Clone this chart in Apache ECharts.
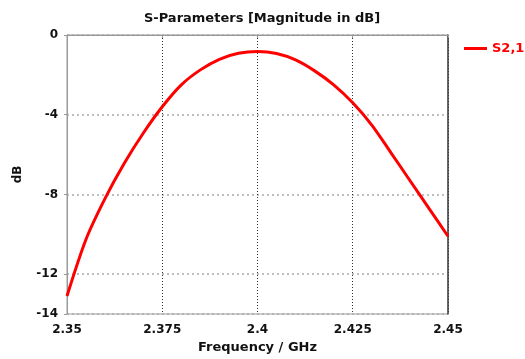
<!DOCTYPE html>
<html>
<head>
<meta charset="utf-8">
<script src="https://cdn.jsdelivr.net/npm/echarts@6/dist/echarts.min.js"></script>
<style>
  html, body { margin: 0; padding: 0; background: #fff; }
  #chart { width: 525px; height: 359px; }
</style>
</head>
<body>
<div id="chart"></div>
<script>
// frequency in GHz, S2,1 magnitude in dB
const freq = [2.35, 2.355, 2.36, 2.365, 2.37, 2.375, 2.38, 2.385, 2.39, 2.395, 2.4,
              2.405, 2.41, 2.415, 2.42, 2.425, 2.43, 2.435, 2.44, 2.445, 2.45];
const s21 = [-13.1, -10.25, -8.2, -6.45, -4.93, -3.6, -2.5, -1.75, -1.22, -0.92, -0.83,
             -0.93, -1.25, -1.8, -2.5, -3.4, -4.52, -5.9, -7.3, -8.7, -10.1];
const yTicks = [0, -4, -8, -12, -14];

const font = "DejaVu Sans";

const chart = echarts.init(document.getElementById("chart"));

chart.setOption({
  animation: false,
  textStyle: { fontFamily: font },
  title: {
    text: "S-Parameters [Magnitude in dB]",
    left: 257,
    textAlign: "center",
    top: 7,
    textStyle: { fontSize: 13, fontWeight: "bold", color: "#111", fontFamily: font }
  },
  legend: {
    data: ["S2,1"],
    left: 459,
    top: 37,
    icon: "rect",
    itemWidth: 23,
    itemHeight: 3,
    itemGap: 6,
    textStyle: { color: "#ff0000", fontWeight: "bold", fontSize: 13, fontFamily: font }
  },
  grid: {
    left: 67, right: 77, top: 35, bottom: 44,
    show: true,
    borderColor: "#999",
    borderWidth: 1
  },
  xAxis: {
    type: "value",
    min: 2.35,
    max: 2.45,
    interval: 0.025,
    name: "Frequency / GHz",
    nameLocation: "middle",
    nameGap: 27,
    nameTextStyle: { fontSize: 13, fontWeight: "bold", color: "#111" },
    axisLine: { lineStyle: { color: "#999" } },
    axisTick: { show: true, length: 3, lineStyle: { color: "#999" } },
    axisLabel: { fontSize: 12, fontWeight: "bold", color: "#111", margin: 10 },
    splitLine: { show: true, lineStyle: { color: "#333", type: [1, 2], width: 1 } }
  },
  yAxis: [{
    type: "value",
    min: -14,
    max: 0,
    name: "dB",
    nameLocation: "middle",
    nameGap: 43,
    nameTextStyle: { fontSize: 12, fontWeight: "bold", color: "#111" },
    axisLine: { show: true, lineStyle: { color: "#999" } },
    axisTick: { show: true, length: 3, customValues: yTicks, lineStyle: { color: "#999" } },
    axisLabel: { fontSize: 12, fontWeight: "bold", color: "#111", margin: 9, customValues: yTicks },
    splitLine: { show: true, lineStyle: { color: "#aaa", type: [2, 3], width: 1.5 } }
  }, {
    type: "value",
    position: "right",
    min: -14,
    max: 0,
    axisLine: { show: true, lineStyle: { color: "#444", width: 1.5 } },
    axisTick: { show: false },
    axisLabel: { show: false },
    splitLine: { show: false }
  }],
  series: [{
    name: "S2,1",
    type: "line",
    data: freq.map((f, i) => [f, s21[i]]),
    smooth: 0.3,
    showSymbol: false,
    lineStyle: { color: "#ff0000", width: 3 },
    itemStyle: { color: "#ff0000" }
  }]
});
</script>
</body>
</html>
